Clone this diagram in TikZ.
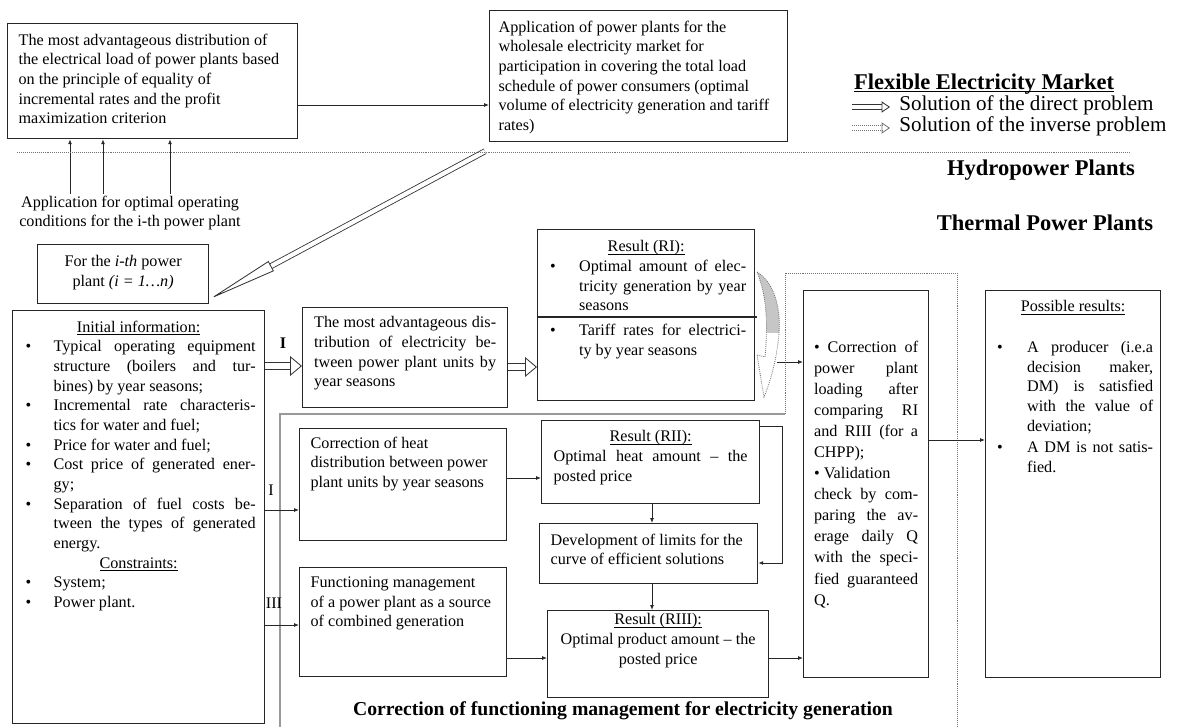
\documentclass[tikz,border=0pt]{standalone}
\usepackage{fontspec}
\setmainfont{Liberation Serif}
\usetikzlibrary{arrows.meta}

\tolerance=10000
\hbadness=10000
\vbadness=10000
\newlength{\unitpx}
\setlength{\unitpx}{0.025cm}
\newcommand{\boxtext}[4]{\parbox[c][#2\unitpx][t]{#1\unitpx}{\vspace*{#3\unitpx}#4}}
\newcommand{\bitem}[2]{\par\hangindent=#1\unitpx\hangafter=1\noindent\makebox[#1\unitpx][l]{\hspace{4\unitpx}\textbullet}#2}
\newcommand{\uline}[1]{\underline{\raisebox{0pt}[\height][0pt]{#1}}}

\begin{document}
\begin{tikzpicture}[x=0.025cm,y=-0.025cm,font=\fontsize{11.5}{14}\selectfont,
  box/.style={draw=black!85,line width=0.9pt,anchor=north west,inner sep=0pt},
  conn/.style={draw=black!85,line width=0.6pt,-{Latex[length=3.5pt,width=2.8pt]}},
  direct/.style={draw=black!80,line width=0.6pt,double=white,double distance=4.5pt,-{Triangle[open,length=8.5pt,width=14pt]}},
  legarrow/.style={draw=black!80,line width=0.6pt,double=white,double distance=2.4pt,-{Triangle[open,length=6pt,width=8pt]}},
  inverse/.style={draw=black!55,line width=0.6pt,dash pattern=on 0.6pt off 0.8pt},
  grayline/.style={draw=black!40,line width=0.8pt},
  title/.style={font=\fontsize{16}{19}\selectfont\bfseries}]
\useasboundingbox (0,0) rectangle (1177,727);

\node[box,minimum width=290\unitpx,minimum height=115\unitpx] (distr) at (7,23)
  {\boxtext{268}{115}{10}{\raggedright The most advantageous distribution of\\ the electrical load of power plants based\\ on the principle of equality of\\ incremental rates and the profit\\ maximization criterion}};
\node[box,minimum width=298\unitpx,minimum height=131\unitpx] (app) at (489,10)
  {\boxtext{280}{131}{10}{\raggedright Application of power plants for the\\ wholesale electricity market for\\ participation in covering the total load\\ schedule of power consumers (optimal\\ volume of electricity generation and tariff\\ rates)}};
\draw[conn] (distr.east |- 0,105) -- (app.west |- 0,105);

\node[inner sep=1pt,align=center] (req) at (130,213) {Application for optimal operating\\ conditions for the i-th power plant};
\foreach \ax in {70,103,170}
  \draw[conn] (req.north -| \ax,0) -- (distr.south -| \ax,0);

\node[box,minimum width=171\unitpx,minimum height=59\unitpx] (plant) at (37,244)
  {\boxtext{160}{59}{11}{\centering For the \textit{i-th} power\\ plant \textit{(i = 1…n)}}};
\draw[direct,double distance=3pt,-{Triangle[open,length=50pt,width=8pt]}] ([xshift=-4\unitpx,yshift=-9\unitpx]app.south west) -- ([yshift=5\unitpx]plant.south east);

\node[title] (market) at (984,83) {\uline{Flexible Electricity Market}};
\node[font=\fontsize{15}{18}\selectfont,anchor=west,inner sep=0pt] (legdir) at (899,105) {Solution of the direct problem};
\node[font=\fontsize{15}{18}\selectfont,anchor=west,inner sep=0pt] (leginv) at (899,126) {Solution of the inverse problem};
\coordinate (dirstart) at (852,107);
\coordinate (invstart) at (852,128);
\draw[legarrow] (dirstart) -- ([xshift=-9\unitpx]legdir.west |- dirstart);
\draw[legarrow,draw=black!55,dash pattern=on 0.6pt off 0.8pt] (invstart) -- ([xshift=-9\unitpx]leginv.west |- invstart);

\draw[inverse] (17,152) -- (1130,152);
\node[title] (hydro) at (1041,170) {Hydropower Plants};
\node[title] (thermal) at (1045,223) {Thermal Power Plants};

\draw[grayline] (280,727) -- (280,414) -- (785,414);
\draw[inverse] (785,414) -- (785,273) -- (957,273) -- (957,727);

\node[box,minimum width=252\unitpx,minimum height=413\unitpx] (init) at (12,310)
  {\boxtext{234}{413}{10}{{\centering\uline{Initial information:}\par}
   \bitem{32}{Typical operating equipment\break structure (boilers and tur-\break bines) by year seasons;}
   \bitem{32}{Incremental rate characteris-\break tics for water and fuel;}
   \bitem{32}{Price for water and fuel;}
   \bitem{32}{Cost price of generated ener-\break gy;}
   \bitem{32}{Separation of fuel costs be-\break tween the types of generated\break energy.}
   \par{\centering\uline{Constraints:}\par}
   \bitem{32}{System;}
   \bitem{32}{Power plant.}}};

\node[box,minimum width=205\unitpx,minimum height=100\unitpx] (madv) at (302,307)
  {\boxtext{182}{100}{9}{The most advantageous dis-\break tribution of electricity be-\break tween power plant units by\break year seasons}};
\node[box,minimum width=217\unitpx,minimum height=171\unitpx] (RI) at (537,229)
  {\boxtext{200}{171}{11}{{\centering\uline{Result (RI):}\par}
   \bitem{33}{Optimal amount of elec-\break tricity generation by year\break seasons}
   \par\vspace{5\unitpx}
   \bitem{33}{Tariff rates for electrici-\break ty by year seasons}}};
\draw[draw=black!85,line width=0.8pt] (RI.west |- 0,317) -- (757,317);
\node[font=\fontsize{11.5}{14}\selectfont\bfseries] (labdir) at (283,343) {I};
\draw[direct] (init.east |- 0,366) -- (madv.west |- 0,366);
\draw[direct] (madv.east |- 0,367) -- (RI.west |- 0,367);

\fill[white] (757,272) .. controls (774,282) and (781,308) .. (779,333)
  .. controls (777,358) and (771,380) .. (764,397) -- (757,355) -- (765,357)
  .. controls (768,325) and (767,296) .. (757,272) -- cycle;
\begin{scope}
\clip (740,262) rectangle (792,333);
\fill[gray!45] (757,272) .. controls (774,282) and (781,308) .. (779,333)
  .. controls (777,358) and (771,380) .. (764,397) -- (757,355) -- (765,357)
  .. controls (768,325) and (767,296) .. (757,272) -- cycle;
\end{scope}
\draw[inverse] (757,272) .. controls (774,282) and (781,308) .. (779,333)
  .. controls (777,358) and (771,380) .. (764,397) -- (757,355) -- (765,357)
  .. controls (768,325) and (767,296) .. (757,272) -- cycle;
\coordinate (bendout) at (777,362);

\node[box,minimum width=207\unitpx,minimum height=112\unitpx] (heat) at (299,428)
  {\boxtext{185}{112}{8}{\raggedright Correction of heat\\ distribution between power\\ plant units by year seasons}};
\node[box,minimum width=207\unitpx,minimum height=109\unitpx] (func) at (299,567)
  {\boxtext{185}{109}{9}{\raggedright Functioning management\\ of a power plant as a source\\ of combined generation}};
\node (labheat) at (271,490) {I};
\node (labfunc) at (274,603) {III};
\draw[conn] (init.east |- 0,510) -- (heat.west |- 0,510);
\draw[conn] (init.east |- 0,625) -- (func.west |- 0,625);

\node[box,minimum width=218\unitpx,minimum height=83\unitpx] (RII) at (541,420)
  {\boxtext{194}{83}{10}{{\centering\uline{Result (RII):}\par}
   Optimal heat amount -- the\break posted price}};
\node[box,minimum width=218\unitpx,minimum height=60\unitpx] (dev) at (539,523)
  {\boxtext{196}{60}{10}{\raggedright Development of limits for the\\ curve of efficient solutions}};
\node[box,minimum width=221\unitpx,minimum height=87\unitpx] (RIII) at (547,610)
  {\boxtext{205}{87}{3}{\centering\uline{Result (RIII):}\\ Optimal product amount -- the\\ posted price}};
\draw[conn] (heat.east |- 0,478) -- (RII.west |- 0,478);
\draw[conn] (func.east |- 0,658) -- (RIII.west |- 0,658);
\draw[conn] (RII.south -| 652,0) -- (dev.north -| 652,0);
\draw[conn] (dev.south -| 652,0) -- (RIII.north -| 652,0);
\draw[conn] (RII.east |- 0,426) -- ++(22,0) |- (dev.east |- 0,563);

\node[box,minimum width=125\unitpx,minimum height=387\unitpx] (corr) at (803,290)
  {\boxtext{104}{387}{50}{\fontsize{11.5}{15}\selectfont
   \textbullet{} Correction of\break power plant\break loading after\break comparing RI\break and RIII (for a\break CHPP);\par
   \textbullet{} Validation\newline check by com-\break paring the av-\break erage daily Q\break with the speci-\break fied guaranteed\break Q.}};
\node[box,minimum width=175\unitpx,minimum height=387\unitpx] (poss) at (985,290)
  {\boxtext{160}{387}{10}{{\centering\uline{Possible results:}\par}\vspace{21\unitpx}
   \bitem{34}{A producer (i.e.a\break decision maker,\break DM) is satisfied\break with the value of\break deviation;}
   \par\vspace{2\unitpx}
   \bitem{34}{A DM is not satis-\break fied.}}};
\draw[conn] (bendout) -- (corr.west |- bendout);
\draw[conn] (RIII.east |- 0,658) -- (corr.west |- 0,658);
\draw[conn] (corr.east |- 0,440) -- (poss.west |- 0,440);

\node[font=\fontsize{14}{17}\selectfont\bfseries] (corrtitle) at (623,711) {Correction of functioning management for electricity generation};
\end{tikzpicture}
\end{document}
